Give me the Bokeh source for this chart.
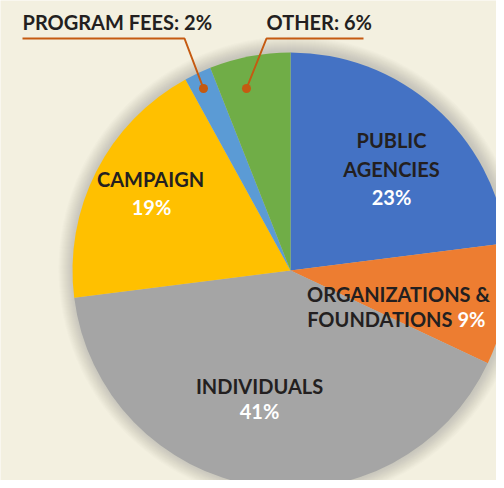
import math
from bokeh.plotting import figure
from bokeh.models import Range1d, ColumnDataSource
from bokeh.core.properties import value
from bokeh.embed import file_html
from bokeh.resources import INLINE

# ---- data ----
categories = ["Public Agencies", "Organizations & Foundations", "Individuals",
              "Campaign", "Program Fees", "Other"]
shares = [23, 9, 41, 19, 2, 6]
colors = ["#4472C4", "#ED7D31", "#A5A5A5", "#FFC000", "#5B9BD5", "#70AD47"]

# ---- layout (picture pixels, y measured downward) ----
W, H = 496, 480
CX, CY, R = 290, 270, 218
BG = "#F3F0E0"
DARK = "#231F20"
LEADER = "#C55A11"
FONT = value("Lato")
FS = "20px"

def Y(py):
    return -py

p = figure(width=W, height=H, output_backend="svg", toolbar_location=None,
           x_range=Range1d(0, W), y_range=Range1d(-H, 0),
           min_border=0, background_fill_color=BG, border_fill_color=BG)
p.axis.visible = False
p.grid.visible = False
p.outline_line_color = None

# soft shadow
for i in range(1, 16):
    p.circle(x=CX + 1, y=Y(CY - 1), radius=R + i, fill_color="#7d7152",
             fill_alpha=0.018, line_color=None)

# wedges
total = sum(shares)
cum = 0
starts, ends = [], []
for s in shares:
    a1 = math.pi / 2 - 2 * math.pi * cum / total
    cum += s
    a2 = math.pi / 2 - 2 * math.pi * cum / total
    starts.append(a2)
    ends.append(a1)
src = ColumnDataSource(dict(cat=categories, share=shares, color=colors,
                            start=starts, end=ends))
p.wedge(x=CX, y=Y(CY), radius=R, start_angle="start", end_angle="end",
        direction="anticlock", fill_color="color", line_color=None, source=src)

def label(x, py, txt, color=DARK, align="center"):
    p.text(x=[x], y=[Y(py)], text=[txt], text_color=color, text_font=FONT,
           text_font_size=FS, text_font_style="bold", text_align=align,
           text_baseline="middle")

pct = {c: f"{s}%" for c, s in zip(categories, shares)}

label(391, 139, "PUBLIC")
label(391, 168, "AGENCIES")
label(391, 196, pct["Public Agencies"], "white")

label(150, 178, "CAMPAIGN")
label(151, 206, pct["Campaign"], "white")

label(259, 385, "INDIVIDUALS")
label(259, 410, pct["Individuals"], "white")

label(398, 293, "ORGANIZATIONS &")
label(452, 318, "FOUNDATIONS", align="right")
label(457, 318, pct["Organizations & Foundations"], "white", align="left")

label(22, 21, "PROGRAM FEES: " + pct["Program Fees"], align="left")
label(266, 21, "OTHER: " + pct["Other"], align="left")

# leader lines
p.line(x=[22, 184, 203], y=[Y(38), Y(38), Y(88)], line_color=LEADER, line_width=2)
p.line(x=[363, 266, 246], y=[Y(38), Y(38), Y(88)], line_color=LEADER, line_width=2)
p.scatter(x=[203, 246], y=[Y(88), Y(88)], size=9, fill_color=LEADER, line_color=None)

open("out.html", "w").write(file_html(p, INLINE))
